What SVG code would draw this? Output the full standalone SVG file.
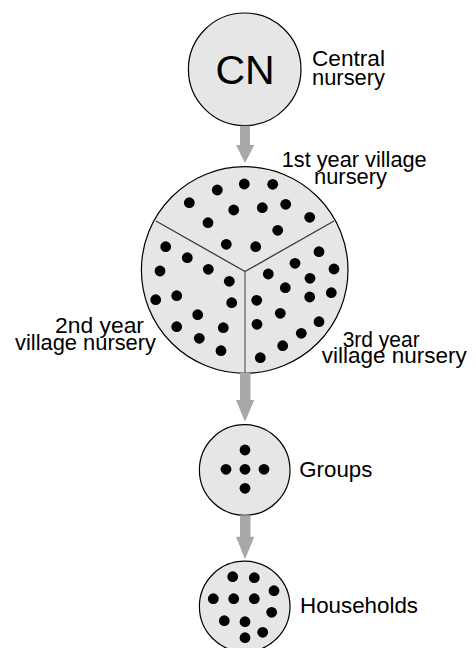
<svg xmlns="http://www.w3.org/2000/svg" width="476" height="648" viewBox="0 0 476 648">
  <style>
    .disc { fill: #e6e6e6; stroke: #000; stroke-width: 1.2; }
    .dot { fill: #000; }
    .div { stroke: #3a3a3a; stroke-width: 1.3; fill: none; }
    .lbl { font-family: "Liberation Sans", Arial, sans-serif; font-size: 22px; fill: #000; }
    .big { font-family: "Liberation Sans", Arial, sans-serif; font-size: 41px; fill: #000; }
    .flow { fill: #a8a8a8; }
  </style>
  <defs>
    <circle id="d" r="5.4" class="dot"/>
  </defs>

  <!-- Central nursery -->
  <g id="central-nursery">
    <circle class="disc" cx="244.7" cy="69.3" r="56.3"/>
    <text class="big" x="245" y="83.5" text-anchor="middle">CN</text>
    <text class="lbl" x="312" y="66" textLength="73" lengthAdjust="spacingAndGlyphs">Central</text>
    <text class="lbl" x="312" y="85" textLength="73" lengthAdjust="spacingAndGlyphs">nursery</text>
  </g>

  <!-- Village nursery, split into three yearly sectors -->
  <g id="village-nursery">
    <circle class="disc" cx="244.7" cy="270" r="103.3"/>
    <path class="div" d="M156 221 L245 271.5 L334 221"/>
    <line x1="245" y1="271.5" x2="245" y2="373.3" stroke="#666" stroke-width="1.3"/>
    <!-- 1st year sector -->
    <use href="#d" x="189.3" y="202.7"/>
    <use href="#d" x="217.3" y="190"/>
    <use href="#d" x="244.3" y="184"/>
    <use href="#d" x="272.7" y="184.3"/>
    <use href="#d" x="233.7" y="210"/>
    <use href="#d" x="262.3" y="207.7"/>
    <use href="#d" x="285.7" y="204.3"/>
    <use href="#d" x="309.7" y="217.3"/>
    <use href="#d" x="208" y="222.7"/>
    <use href="#d" x="277.7" y="230.3"/>
    <use href="#d" x="226.3" y="244.3"/>
    <use href="#d" x="255.7" y="246.7"/>
    <!-- 2nd year sector -->
    <use href="#d" x="165.7" y="246.7"/>
    <use href="#d" x="187.3" y="257.7"/>
    <use href="#d" x="160" y="271"/>
    <use href="#d" x="208.3" y="269.3"/>
    <use href="#d" x="229.3" y="281.3"/>
    <use href="#d" x="176.7" y="295.7"/>
    <use href="#d" x="155.7" y="299.7"/>
    <use href="#d" x="231.7" y="302.7"/>
    <use href="#d" x="197.7" y="314.7"/>
    <use href="#d" x="176.7" y="326.7"/>
    <use href="#d" x="223.3" y="327.7"/>
    <use href="#d" x="199.3" y="338.3"/>
    <use href="#d" x="221" y="350.7"/>
    <!-- 3rd year sector -->
    <use href="#d" x="319" y="251.7"/>
    <use href="#d" x="295" y="263.3"/>
    <use href="#d" x="334" y="269"/>
    <use href="#d" x="268.3" y="274"/>
    <use href="#d" x="310" y="278.3"/>
    <use href="#d" x="285.3" y="287.7"/>
    <use href="#d" x="331.3" y="292.7"/>
    <use href="#d" x="309.7" y="297"/>
    <use href="#d" x="256.7" y="300.3"/>
    <use href="#d" x="280.3" y="313.3"/>
    <use href="#d" x="319" y="321.7"/>
    <use href="#d" x="257" y="324.3"/>
    <use href="#d" x="301.3" y="333.3"/>
    <use href="#d" x="282.7" y="345.7"/>
    <use href="#d" x="260.3" y="357.7"/>
    <text class="lbl" x="281.7" y="166.7" textLength="145" lengthAdjust="spacingAndGlyphs">1st year village</text>
    <text class="lbl" x="314" y="184.3" textLength="73" lengthAdjust="spacingAndGlyphs">nursery</text>
    <text class="lbl" x="55" y="333.3" textLength="89" lengthAdjust="spacingAndGlyphs">2nd year</text>
    <text class="lbl" x="15" y="349.5" textLength="141" lengthAdjust="spacingAndGlyphs">village nursery</text>
    <text class="lbl" x="342.7" y="346.7" textLength="77" lengthAdjust="spacingAndGlyphs">3rd year</text>
    <text class="lbl" x="321.7" y="363.3" textLength="145" lengthAdjust="spacingAndGlyphs">village nursery</text>
  </g>

  <!-- Groups -->
  <g id="groups">
    <circle class="disc" cx="244.7" cy="470" r="45.3"/>
    <use href="#d" x="245" y="450"/>
    <use href="#d" x="226" y="469.3"/>
    <use href="#d" x="245" y="469.3"/>
    <use href="#d" x="264" y="469.3"/>
    <use href="#d" x="245" y="488.3"/>
    <text class="lbl" x="299.3" y="476.7" textLength="73" lengthAdjust="spacingAndGlyphs">Groups</text>
  </g>

  <!-- Households -->
  <g id="households">
    <circle class="disc" cx="244.7" cy="606.5" r="45.3"/>
    <use href="#d" x="232.7" y="576.7"/>
    <use href="#d" x="254.3" y="577.7"/>
    <use href="#d" x="274" y="590.7"/>
    <use href="#d" x="213.3" y="598.7"/>
    <use href="#d" x="233.7" y="598.7"/>
    <use href="#d" x="254.3" y="598.7"/>
    <use href="#d" x="271.7" y="612.3"/>
    <use href="#d" x="224.3" y="620.7"/>
    <use href="#d" x="245" y="621.7"/>
    <use href="#d" x="262.7" y="632.3"/>
    <use href="#d" x="245" y="637.7"/>
    <text class="lbl" x="300" y="613.3" textLength="118" lengthAdjust="spacingAndGlyphs">Households</text>
  </g>

  <!-- Flow arrows between stages -->
  <g id="connectors">
    <path class="flow" d="M240 125.8 H250 V145 H254.3 L245 163 L236 145 H240 Z"/>
    <path class="flow" d="M240 373 H250.5 V400 H254.3 L245 421.7 L236 400 H240 Z"/>
    <path class="flow" d="M240 515.3 H250.5 V536.7 H254.3 L245 559.3 L236 536.7 H240 Z"/>
  </g>
</svg>
